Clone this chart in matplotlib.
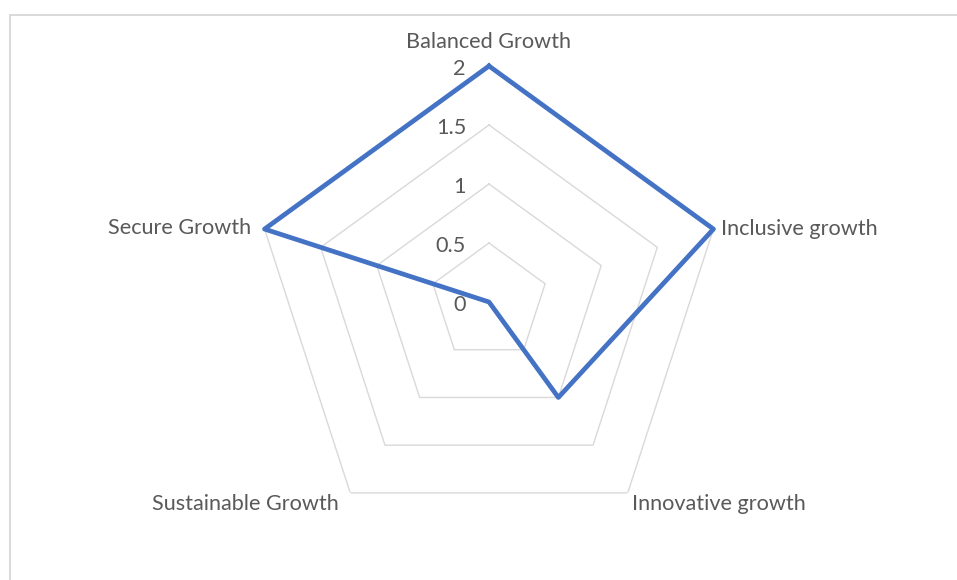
import numpy as np
import matplotlib
matplotlib.use('Agg')
import matplotlib.pyplot as plt
from matplotlib.lines import Line2D

# data
categories = ['Balanced Growth', 'Inclusive growth', 'Innovative growth',
              'Sustainable Growth', 'Secure Growth']
values = [2, 2, 1, 0, 2]
ring_ticks = [0, 0.5, 1, 1.5, 2]
ring_labels = ['0', '0.5', '1', '1.5', '2']

LINE_COLOR = '#4472C4'
GRID_COLOR = '#D9D9D9'
TEXT_COLOR = '#595959'
FONT = ['Lato', 'DejaVu Sans']
FS = 15.6

plt.rcParams['font.family'] = FONT

W, H = 957, 580
fig = plt.figure(figsize=(W / 100, H / 100), dpi=100)

# chart border (only top and left edge visible)
fig.add_artist(Line2D([10 / W, 10 / W], [0, 1 - 15 / H], color=GRID_COLOR, lw=1.4))
fig.add_artist(Line2D([10 / W, 1], [1 - 15 / H, 1 - 15 / H], color=GRID_COLOR, lw=1.4))

# polar axes centered at (489, 302) px, radius 236 px
cx, cy, R = 489, 302, 236
ax = fig.add_axes([(cx - R) / W, (H - cy - R) / H, 2 * R / W, 2 * R / H], projection='polar')
ax.set_theta_offset(np.pi / 2)
ax.set_theta_direction(-1)
ax.set_ylim(0, 2)
ax.set_xticks([])
ax.set_yticks([])
ax.grid(False)
ax.spines['polar'].set_visible(False)
ax.patch.set_visible(False)

n = len(categories)
angles = np.linspace(0, 2 * np.pi, n, endpoint=False)
closed = np.append(angles, angles[0])

# pentagon gridlines
for r in ring_ticks[1:]:
    ax.plot(closed, [r] * (n + 1), color=GRID_COLOR, lw=1.0, zorder=1)

# data series
ax.plot(closed, values + values[:1], color=LINE_COLOR, lw=3.4,
        solid_joinstyle='round', zorder=3, clip_on=False)

# radial tick labels, left of the vertical axis
for r, lab in zip(ring_ticks, ring_labels):
    ax.annotate(lab, xy=(0, r), xytext=(-23, -3), textcoords='offset pixels',
                ha='right', va='center', fontsize=FS, color=TEXT_COLOR)

# category labels
label_pos = [((0, 24), 'center'), ((8, 0), 'left'), ((4, -11), 'left'),
             ((-12, -11), 'right'), ((-13, 1), 'right')]
for a, cat, (off, ha) in zip(angles, categories, label_pos):
    ax.annotate(cat, xy=(a, 2), xytext=off, textcoords='offset pixels',
                ha=ha, va='center', fontsize=FS, color=TEXT_COLOR)

fig.savefig('out.png', dpi=100)
